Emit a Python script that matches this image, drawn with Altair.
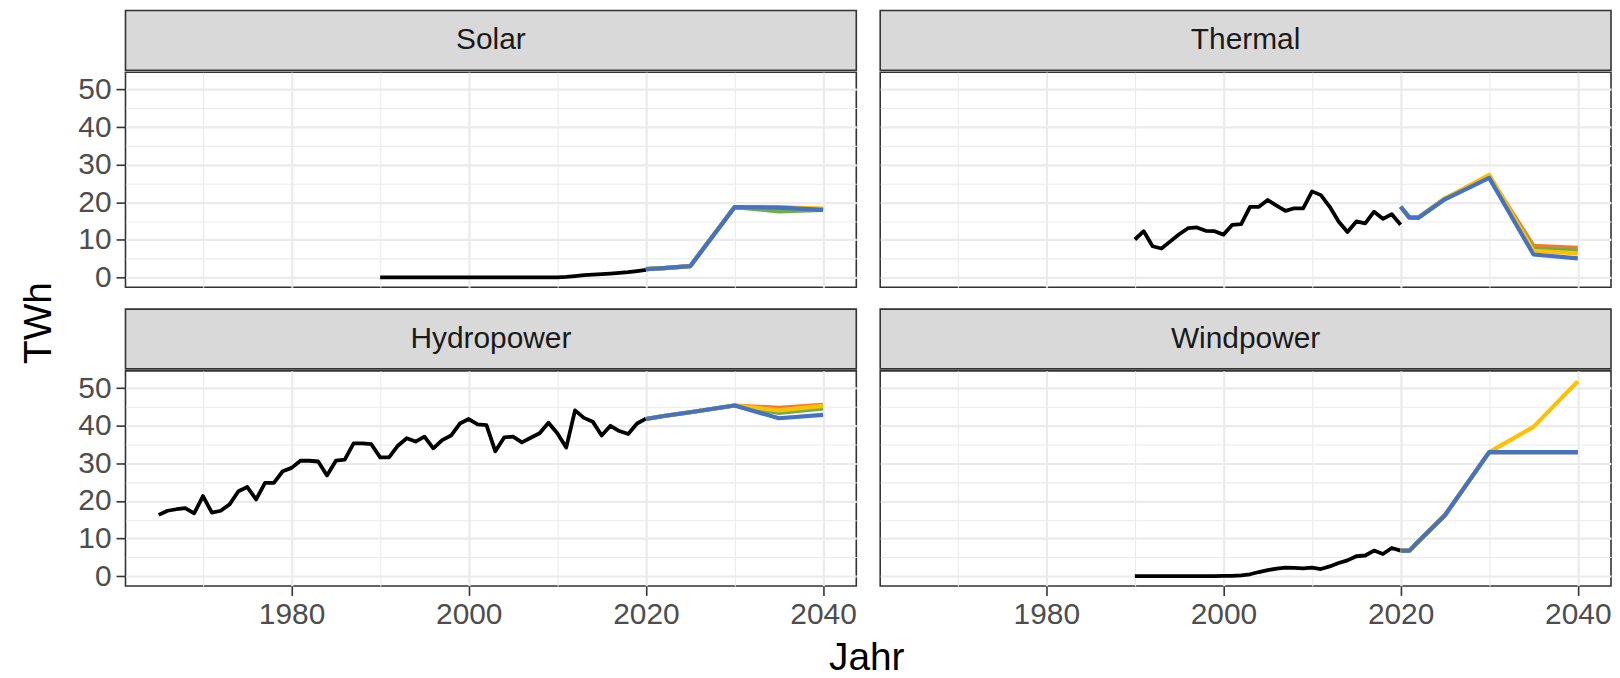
import altair as alt
import pandas as pd

FONT = "Liberation Sans"

TECHS = ["Solar", "Thermal", "Hydropower", "Windpower"]

# historical series
HYDRO_YEARS = list(range(1965, 2021))
HYDRO_HIST = [16.3, 17.4, 17.8, 18.1, 16.7, 21.3, 16.9, 17.4, 19.1, 22.6,
              23.7, 20.4, 24.8, 24.8, 27.9, 28.8, 30.7, 30.7, 30.5, 26.8,
              30.7, 31.0, 35.3, 35.3, 35.1, 31.6, 31.6, 34.7, 36.7, 35.8,
              37.1, 34.0, 36.2, 37.4, 40.6, 41.8, 40.4, 40.2, 33.2, 36.9,
              37.1, 35.6, 36.8, 38.0, 40.8, 38.0, 34.2, 44.1, 42.1, 41.1,
              37.4, 40.0, 38.6, 37.8, 40.6, 41.9]
HIST_YEARS = list(range(1990, 2021))
THERMAL_HIST = [10.1, 12.3, 8.3, 7.7, 9.6, 11.5, 13.1, 13.3, 12.4, 12.3,
                11.4, 14.0, 14.2, 18.8, 18.8, 20.6, 19.1, 17.7, 18.4, 18.4,
                22.9, 21.9, 18.8, 14.9, 12.1, 14.9, 14.4, 17.5, 15.6, 16.8,
                14.0]
WIND_HIST = [0.0, 0.0, 0.0, 0.0, 0.0, 0.0, 0.0, 0.0, 0.0, 0.0,
             0.05, 0.1, 0.2, 0.5, 1.1, 1.6, 2.0, 2.3, 2.2, 2.1,
             2.3, 1.9, 2.6, 3.5, 4.2, 5.3, 5.5, 6.8, 5.9, 7.5,
             6.8]
SOLAR_HIST = [0.0, 0.0, 0.0, 0.0, 0.0, 0.0, 0.0, 0.0, 0.0, 0.0,
              0.0, 0.0, 0.0, 0.0, 0.0, 0.0, 0.0, 0.0, 0.0, 0.0,
              0.05, 0.15, 0.35, 0.6, 0.75, 0.9, 1.05, 1.2, 1.4, 1.7,
              2.0]

# scenario series
SCEN_YEARS = [2020, 2021, 2022, 2025, 2030, 2035, 2040]
SCENARIOS = ["S1", "S2", "S3", "S4"]
SCEN_COLORS = ["#ED7D31", "#70AD47", "#FFC000", "#4472C4"]

SOLAR_S1 = [2.2, 2.35, 2.5, 3.0, 18.7, 18.6, 18.2]
SOLAR_S2 = [2.2, 2.35, 2.5, 3.0, 18.7, 17.6, 18.0]
SOLAR_S3 = [2.2, 2.35, 2.5, 3.0, 18.7, 18.7, 18.3]
SOLAR_S4 = [2.2, 2.35, 2.5, 3.0, 18.7, 18.6, 18.0]

THERMAL_S1 = [18.8, 15.9, 15.9, 21.0, 26.9, 8.4, 7.9]
THERMAL_S2 = [18.8, 15.9, 15.9, 21.0, 26.7, 7.6, 7.1]
THERMAL_S3 = [18.8, 15.9, 15.9, 21.0, 27.3, 7.1, 6.4]
THERMAL_S4 = [18.8, 15.9, 15.9, 20.8, 26.5, 6.1, 5.1]

HYDRO_S1 = [41.8, 42.2, 42.6, 43.6, 45.4, 44.8, 45.6]
HYDRO_S2 = [41.8, 42.2, 42.6, 43.6, 45.4, 43.4, 44.6]
HYDRO_S3 = [41.8, 42.2, 42.6, 43.6, 45.4, 44.1, 45.3]
HYDRO_S4 = [41.8, 42.2, 42.6, 43.6, 45.4, 42.0, 42.9]

WIND_S1 = [6.8, 6.8, 9.2, 16.2, 33.0, 33.0, 33.0]
WIND_S2 = [6.8, 6.8, 9.2, 16.2, 33.0, 33.0, 33.0]
WIND_S3 = [6.8, 6.8, 9.2, 16.2, 33.0, 39.7, 51.8]
WIND_S4 = [6.8, 6.8, 9.2, 16.2, 33.0, 33.0, 33.0]

X_TICKS = [1970, 1980, 1990, 2000, 2010, 2020, 2030, 2040]
Y_TICKS = [0, 5, 10, 15, 20, 25, 30, 35, 40, 45, 50]

hist = {
    "Solar": (HIST_YEARS, SOLAR_HIST),
    "Thermal": (HIST_YEARS, THERMAL_HIST),
    "Hydropower": (HYDRO_YEARS, HYDRO_HIST),
    "Windpower": (HIST_YEARS, WIND_HIST),
}
scen = {
    "Solar": [SOLAR_S1, SOLAR_S2, SOLAR_S3, SOLAR_S4],
    "Thermal": [THERMAL_S1, THERMAL_S2, THERMAL_S3, THERMAL_S4],
    "Hydropower": [HYDRO_S1, HYDRO_S2, HYDRO_S3, HYDRO_S4],
    "Windpower": [WIND_S1, WIND_S2, WIND_S3, WIND_S4],
}

W = 734
H = 216
SH = 60

grid_w = {"condition": {"test": "datum.value % 20 === 0", "value": 2.2}, "value": 1.1}
grid_wy = {"condition": {"test": "datum.value % 10 === 0", "value": 2.2}, "value": 1.1}


def x_axis(show):
    if show:
        return alt.Axis(values=X_TICKS, format="d",
                        labelExpr="datum.value % 20 === 0 ? datum.label : ''",
                        labelFontSize=30, labelFont=FONT, labelColor="#4d4d4d",
                        labelPadding=4, labelFlush=False, labelOverlap=False,
                        tickSize=9.5, tickWidth=1.6, tickColor="#333333",
                        tickOpacity={"condition": {"test": "datum.value % 20 === 0", "value": 1}, "value": 0},
                        grid=True, gridColor="#ebebeb", gridWidth=grid_w,
                        domain=False, title=None)
    return alt.Axis(values=X_TICKS, labels=False, ticks=False, grid=True,
                    gridColor="#ebebeb", gridWidth=grid_w, domain=False, title=None)


def y_axis(show):
    if show:
        return alt.Axis(values=Y_TICKS, format="d",
                        labelExpr="datum.value % 10 === 0 ? datum.label : ''",
                        labelFontSize=30, labelFont=FONT, labelColor="#4d4d4d",
                        labelPadding=5, labelFlush=False, labelOverlap=False,
                        tickSize=9.5, tickWidth=1.6, tickColor="#333333",
                        tickOpacity={"condition": {"test": "datum.value % 10 === 0", "value": 1}, "value": 0},
                        grid=True, gridColor="#ebebeb", gridWidth=grid_wy,
                        domain=False, title=None)
    return alt.Axis(values=Y_TICKS, labels=False, ticks=False, grid=True,
                    gridColor="#ebebeb", gridWidth=grid_wy, domain=False, title=None)


def cell(tech, show_x, show_y):
    yrs, vals = hist[tech]
    hdf = pd.DataFrame({"year": yrs, "value": vals})
    rows = []
    for name, series in zip(SCENARIOS, scen[tech]):
        for yr, v in zip(SCEN_YEARS, series):
            rows.append({"scenario": name, "year": yr, "value": v})
    sdf = pd.DataFrame(rows)

    xs = alt.Scale(domain=[1961.25, 2043.75], nice=False, zero=False)
    ys = alt.Scale(domain=[-2.6, 54.6], nice=False, zero=False)

    h_line = alt.Chart(hdf).mark_line(color="black", strokeWidth=3.8, strokeJoin="round").encode(
        x=alt.X("year:Q", scale=xs, axis=x_axis(show_x)),
        y=alt.Y("value:Q", scale=ys, axis=y_axis(show_y)),
    )
    s_line = alt.Chart(sdf).mark_line(strokeWidth=4.2, strokeJoin="round").encode(
        x=alt.X("year:Q", scale=xs, axis=x_axis(show_x)),
        y=alt.Y("value:Q", scale=ys, axis=y_axis(show_y)),
        color=alt.Color("scenario:N", scale=alt.Scale(domain=SCENARIOS, range=SCEN_COLORS), legend=None),
    )
    plot = alt.layer(h_line, s_line).properties(width=W, height=H)

    strip = alt.Chart(pd.DataFrame({"label": [tech]})).mark_text(
        fontSize=30, font=FONT, color="#1a1a1a", baseline="middle", align="center"
    ).encode(
        text="label:N", x=alt.value(W / 2), y=alt.value(SH / 2)
    ).properties(width=W, height=SH,
                 view=alt.ViewBackground(fill="#d9d9d9", stroke="#333333", strokeWidth=1.6))
    return alt.vconcat(strip, plot, spacing=0)


row1 = alt.hconcat(cell("Solar", False, True), cell("Thermal", False, False), spacing=22)
row2 = alt.hconcat(cell("Hydropower", True, True), cell("Windpower", True, False), spacing=22)
grid = alt.vconcat(row1, row2, spacing=15)

ytitle = alt.Chart(pd.DataFrame({"t": ["TWh"]})).mark_text(
    angle=270, fontSize=39, font=FONT, color="black", align="center", baseline="alphabetic"
).encode(text="t:N", x=alt.value(42), y=alt.value(314)).properties(
    width=56, height=568, view=alt.ViewBackground(stroke="transparent"))

xtitle = alt.Chart(pd.DataFrame({"t": ["Jahr"]})).mark_text(
    fontSize=39, font=FONT, color="black", align="center", baseline="alphabetic"
).encode(text="t:N", x=alt.value(861.5), y=alt.value(38)).properties(
    width=1600, height=40, view=alt.ViewBackground(stroke="transparent"))

chart = alt.vconcat(
    alt.hconcat(ytitle, grid, spacing=11),
    xtitle,
    spacing=0,
).properties(padding=0, background="white").configure_view(
    stroke="#333333", strokeWidth=1.6
).configure_concat(spacing=0)

chart.save("out.html", embed_options={"renderer": "svg", "actions": False})
